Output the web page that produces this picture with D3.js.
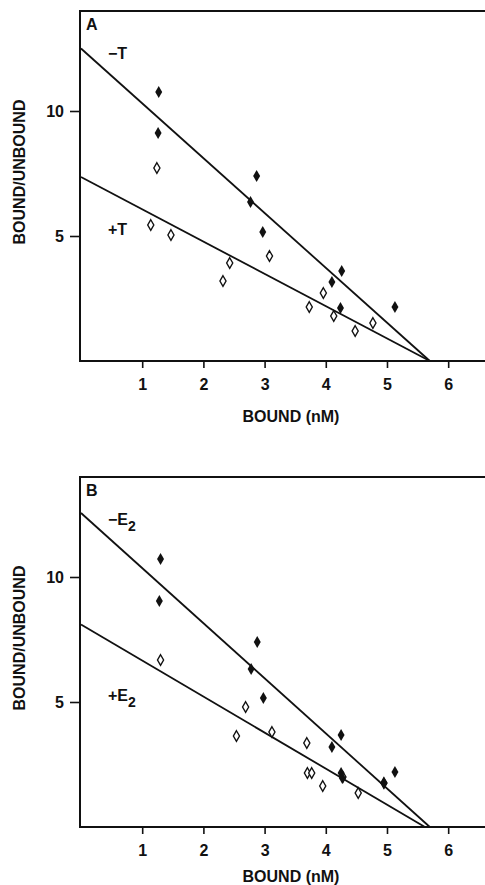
<!DOCTYPE html>
<html>
<head>
<meta charset="utf-8">
<script src="https://cdn.jsdelivr.net/npm/d3@7"></script>
<style>
  body { margin: 0; background: #fff; }
  svg { display: block; }
  text { font-family: "Liberation Sans", Arial, sans-serif; fill: #111; }
</style>
</head>
<body>
<svg width="485" height="885"></svg>
<script>
// Scatchard data: [bound nM, bound/unbound]
const aMinus = [[1.27, 10.76], [1.26, 9.12], [2.87, 7.4], [2.77, 6.36], [2.97, 5.16],
  [4.26, 3.6], [4.10, 3.16], [4.24, 2.12], [5.13, 2.16]];
const aPlus = [[1.24, 7.72], [1.14, 5.44], [1.47, 5.04], [2.43, 3.92], [2.32, 3.2],
  [3.08, 4.2], [3.96, 2.72], [3.73, 2.16], [4.13, 1.8], [4.48, 1.2], [4.77, 1.52]];
const bMinus = [[1.30, 10.72], [1.28, 9.04], [2.88, 7.4], [2.78, 6.32], [2.98, 5.16],
  [4.25, 3.68], [4.10, 3.2], [4.25, 2.16], [4.27, 1.96], [5.13, 2.2], [4.95, 1.76]];
const bPlus = [[1.30, 6.68], [2.69, 4.8], [2.54, 3.64], [3.12, 3.8], [3.69, 3.36],
  [3.70, 2.16], [3.77, 2.16], [3.95, 1.64], [4.28, 2.0], [4.53, 1.36], [4.95, 1.76]];

// fitted lines: [y intercept, x intercept]
const aFits = [[12.5, 5.7], [7.36, 5.7]];
const bFits = [[12.56, 5.7], [8.1, 5.62]];

const xTicks = [1, 2, 3, 4, 5, 6];
const yTicks = [5, 10];

const svg = d3.select("svg");

function panel(top, letter, minus, plus, fits, minusLabel, plusLabel, labelOffset) {
  const x = d3.scaleLinear().domain([0, 6.6]).range([81, 484.9]);
  const y = d3.scaleLinear().domain([0, 14]).range([top + 350, top]);
  const g = svg.append("g");

  // frame: top, left, bottom
  g.append("path")
    .attr("d", `M485,${y(14)}H${x(0) - 1}V${y(0)}H485`)
    .attr("fill", "none").attr("stroke", "#111").attr("stroke-width", 2);

  const xAxis = g.append("g")
    .attr("transform", `translate(0,${y(0)})`)
    .call(d3.axisBottom(x).tickValues(xTicks).tickSize(7).tickPadding(11).tickFormat(d3.format("d")));
  const yAxis = g.append("g")
    .attr("transform", `translate(${x(0) - 1},0)`)
    .call(d3.axisLeft(y).tickValues(yTicks).tickSize(10).tickPadding(6));
  [xAxis, yAxis].forEach(a => {
    a.select(".domain").remove();
    a.selectAll("line").attr("stroke", "#111").attr("stroke-width", 1.6);
    a.selectAll("text").style("font-size", "16px").style("font-weight", "bold")
      .style("font-family", "'Liberation Sans', Arial, sans-serif").attr("fill", "#111");
  });

  g.append("text").attr("x", x(0) + 5).attr("y", y(14) + 19)
    .style("font-size", "16px").style("font-weight", "bold").text(letter);

  g.append("text")
    .attr("transform", `translate(25,${top + 161}) rotate(-90)`)
    .attr("text-anchor", "middle")
    .style("font-size", "16px").style("font-weight", "bold")
    .text("BOUND/UNBOUND");

  g.append("text").attr("x", 291).attr("y", y(0) + labelOffset)
    .attr("text-anchor", "middle")
    .style("font-size", "16px").style("font-weight", "bold")
    .text("BOUND (nM)");

  const line = d3.line().x(d => x(d[0])).y(d => y(d[1]));
  g.selectAll(".fit").data(fits).join("path")
    .attr("class", "fit")
    .attr("d", d => line([[0, d[0]], [d[1], 0]]))
    .attr("fill", "none").attr("stroke", "#111").attr("stroke-width", 1.8);

  const diamond = d3.symbol(d3.symbolDiamond, 42);
  const open = d3.symbol(d3.symbolDiamond, 32);
  g.selectAll(".open").data(plus).join("path")
    .attr("class", "open")
    .attr("transform", d => `translate(${x(d[0])},${y(d[1])})`)
    .attr("d", open)
    .attr("fill", "#fff").attr("stroke", "#111").attr("stroke-width", 1.4);
  g.selectAll(".filled").data(minus).join("path")
    .attr("class", "filled")
    .attr("transform", d => `translate(${x(d[0])},${y(d[1])})`)
    .attr("d", diamond)
    .attr("fill", "#111");

  [[minusLabel, y(14) + 48], [plusLabel, y(5) - 1]].forEach(([lab, yy]) => {
    const t = g.append("text").attr("x", 108).attr("y", yy)
      .style("font-size", "16px").style("font-weight", "bold");
    t.append("tspan").text(lab[0]);
    if (lab[1]) t.append("tspan").attr("dy", 6).style("font-size", "14px").text(lab[1]);
  });
}

panel(11, "A", aMinus, aPlus, aFits, ["\u2212T"], ["+T"], 61);
panel(477, "B", bMinus, bPlus, bFits, ["\u2212E", "2"], ["+E", "2"], 55);
</script>
</body>
</html>
